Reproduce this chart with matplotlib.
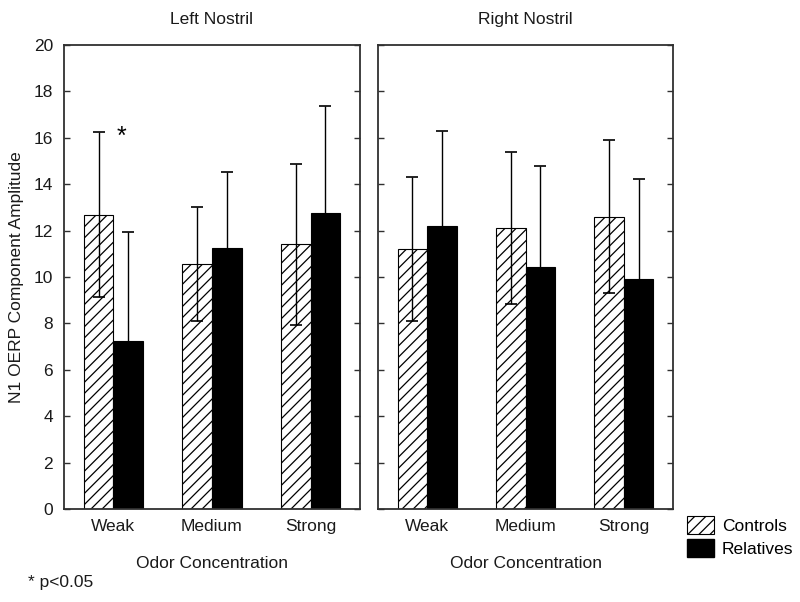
import matplotlib
matplotlib.use("Agg")
import matplotlib.pyplot as plt
import numpy as np
from matplotlib.patches import Patch

plt.rcParams['font.family'] = ['Liberation Sans', 'DejaVu Sans']
plt.rcParams['hatch.linewidth'] = 0.9

categories = ["Weak", "Medium", "Strong"]
panels = ["Left Nostril", "Right Nostril"]
series = ["Controls", "Relatives"]

left_controls = [12.68, 10.56, 11.41]
left_controls_err = [3.55, 2.44, 3.46]
left_relatives = [7.24, 11.25, 12.76]
left_relatives_err = [4.69, 3.26, 4.60]

right_controls = [11.19, 12.11, 12.59]
right_controls_err = [3.10, 3.26, 3.30]
right_relatives = [12.21, 10.45, 9.93]
right_relatives_err = [4.10, 4.32, 4.30]

yticks = [0, 2, 4, 6, 8, 10, 12, 14, 16, 18, 20]

data = [
    (left_controls, left_controls_err, left_relatives, left_relatives_err),
    (right_controls, right_controls_err, right_relatives, right_relatives_err),
]

fig = plt.figure(figsize=(8.0, 6.02), dpi=100)
ax1 = fig.add_axes([64/800, 1-509/602, 296/800, 464/602])
ax2 = fig.add_axes([378/800, 1-509/602, 295/800, 464/602])
axes = [ax1, ax2]

fs = 12.5
txt_col = '#1a1a1a'
spine_col = '#303030'
w = 0.3
x = np.arange(len(categories)) + 0.5

for i, (ax, (c, ce, r, re)) in enumerate(zip(axes, data)):
    ax.bar(x - w/2, c, w, color='white', edgecolor='black', hatch='///', linewidth=0.8, zorder=2)
    ax.bar(x + w/2, r, w, color='black', edgecolor='black', linewidth=0.8, zorder=2)
    ax.errorbar(x - w/2, c, yerr=ce, fmt='none', ecolor='black', elinewidth=1.0,
                capsize=4, capthick=1.2, zorder=3)
    ax.errorbar(x + w/2, r, yerr=re, fmt='none', ecolor='black', elinewidth=1.0,
                capsize=4, capthick=1.2, zorder=1)
    ax.set_xlim(0, 3)
    ax.set_ylim(0, 20)
    ax.set_xticks(x)
    ax.set_xticklabels(categories, fontsize=fs)
    ax.tick_params(axis='x', length=0, pad=7, colors=txt_col)
    ax.set_yticks(yticks)
    ax.tick_params(axis='y', direction='in', left=True, right=True, length=4,
                   width=1, color=spine_col, labelsize=fs, labelcolor=txt_col, pad=8)
    if i == 1:
        ax.tick_params(axis='y', labelleft=False)
    for s in ax.spines.values():
        s.set_linewidth(1.3)
        s.set_color(spine_col)
    ax.set_title(panels[i], fontsize=fs, pad=15, color=txt_col)
    ax.set_xlabel("Odor Concentration", fontsize=fs, labelpad=16, color=txt_col)

ax1.set_ylabel("N1 OERP Component Amplitude", fontsize=fs, labelpad=7, color=txt_col)
ax1.text(x[0] + 0.03, left_controls[0] + left_controls_err[0] - 0.2, "*",
         fontsize=18, ha='left', va='center')

fig.text(28/800, 1-582/602, "* p<0.05", fontsize=fs, ha='left', va='center', color=txt_col)

handles = [Patch(facecolor='white', edgecolor='black', hatch='///', linewidth=0.8),
           Patch(facecolor='black', edgecolor='black')]
fig.legend(handles, series, loc='upper left', bbox_to_anchor=(675/800, 1-504/602),
           frameon=False, fontsize=fs, handlelength=1.55, handleheight=1.2,
           handletextpad=0.45, labelspacing=0.3, borderpad=0.2)

fig.savefig("out.png", dpi=100)
